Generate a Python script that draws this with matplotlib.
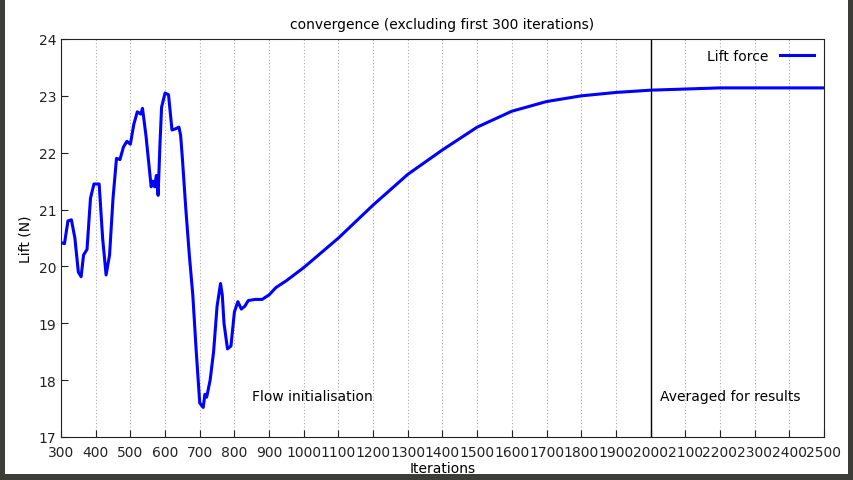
import numpy as np
import matplotlib
matplotlib.use('Agg')
import matplotlib.pyplot as plt
import matplotlib.patches as mpatches

# Lift force trace
iterations = [300, 310, 320, 330, 340, 350, 358, 365, 375, 385, 395, 410, 420, 430, 440,
              450, 460, 470, 480, 490, 500, 510, 520, 530, 535, 545, 555, 560, 565, 570,
              575, 580, 585, 590, 600, 610, 620, 630, 640, 645, 650, 660, 670, 680, 690,
              700, 710, 715, 720, 730, 740, 750, 760, 765, 770, 780, 790, 800, 810, 820,
              830, 840, 860, 880, 900, 920, 950, 1000, 1100, 1200, 1300, 1400, 1500, 1600,
              1700, 1800, 1900, 2000, 2100, 2200, 2500]
lift = [20.42, 20.4, 20.8, 20.82, 20.5, 19.9, 19.82, 20.2, 20.3, 21.2, 21.45, 21.45, 20.5,
        19.85, 20.2, 21.2, 21.9, 21.88, 22.1, 22.2, 22.15, 22.5, 22.72, 22.68, 22.78, 22.3,
        21.7, 21.4, 21.5, 21.4, 21.6, 21.25, 22.1, 22.8, 23.05, 23.02, 22.4, 22.42, 22.45,
        22.3, 21.9, 21.0, 20.2, 19.5, 18.5, 17.6, 17.52, 17.75, 17.7, 18.0, 18.5, 19.3,
        19.7, 19.5, 19.0, 18.55, 18.6, 19.2, 19.38, 19.25, 19.3, 19.4, 19.42, 19.42, 19.5,
        19.63, 19.75, 19.98, 20.5, 21.08, 21.62, 22.05, 22.45, 22.73, 22.9, 23.0, 23.06,
        23.1, 23.12, 23.14, 23.14]
x_ticks = list(range(300, 2501, 100))
y_ticks = list(range(17, 25))

fig = plt.figure(figsize=(8.54, 4.81), dpi=100)
fig.patch.set_facecolor('#3c3c38')
# white page inside the dark frame
fig.patches.append(mpatches.Rectangle((5 / 854, 6 / 481), 843 / 854, 475 / 481,
                                      transform=fig.transFigure, facecolor='white',
                                      edgecolor='none', zorder=-10))

ax = fig.add_axes([61 / 854, 43 / 481, 763 / 854, 398 / 481])
ax.set_zorder(5)
ax.set_facecolor('white')
ax.plot(iterations, lift, color='#0000ff', linewidth=2.2, label='Lift force')
ax.axvline(2000, color='black', linewidth=1.0)

ax.set_xlim(300, 2500)
ax.set_ylim(17, 24)
ax.set_xticks(x_ticks)
ax.set_yticks(y_ticks)
ax.tick_params(labelsize=10, direction='in', length=5, colors='#222222')
ax.tick_params(axis='x', pad=6)
ax.xaxis.grid(True, color='#aaaaaa', linestyle=(0, (1, 2)), linewidth=0.8)
ax.set_axisbelow(True)
for s in ax.spines.values():
    s.set_color('#222222')

ax.set_xlabel('Iterations', fontsize=10, labelpad=1)
ax.set_ylabel('Lift (N)', fontsize=10)
ax.set_title('convergence (excluding first 300 iterations)', fontsize=10, pad=8)

ax.text(850, 17.72, 'Flow initialisation', fontsize=10, va='center', ha='left')
ax.text(2230, 17.72, 'Averaged for results', fontsize=10, va='center', ha='center')

ax.legend(loc='upper right', frameon=False, fontsize=10, markerfirst=False,
          handlelength=2.5, borderaxespad=0.3)

fig.savefig('out.png', dpi=100, facecolor=fig.get_facecolor())
